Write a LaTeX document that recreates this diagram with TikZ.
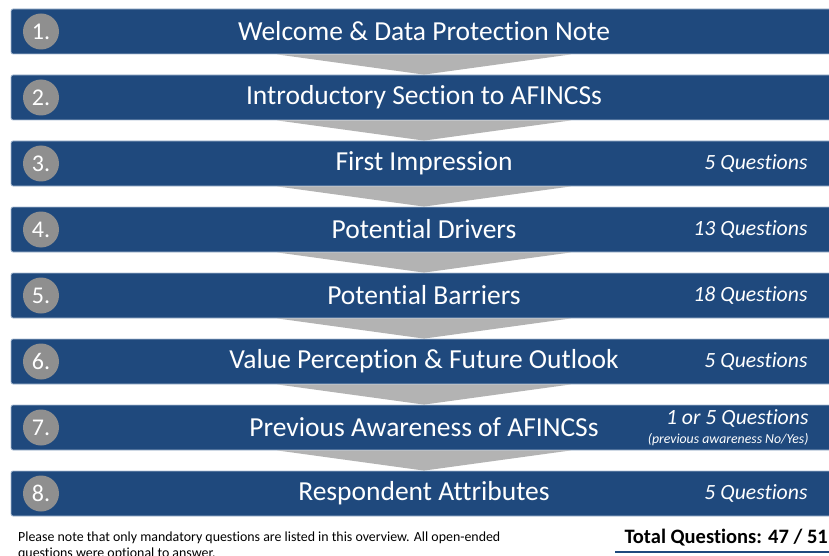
\documentclass[tikz,border=0pt]{standalone}
\usepackage{fontspec}
\setmainfont{Carlito}[Ligatures=NoCommon]
\definecolor{bar-color}{HTML}{1F497D}
\definecolor{bar-edge-color}{HTML}{A9BCD3}
\definecolor{num-node-color}{HTML}{8F8F8F}
\definecolor{chevron-color}{HTML}{B3B3B3}

\begin{document}
\begin{tikzpicture}[x=1pt, y=-1pt,
bar/.style={rectangle, fill=bar-color, draw=bar-edge-color, line width=.8pt, rounded corners=2pt,
  minimum width=826pt, minimum height=45pt, inner sep=0pt, text=white},
num/.style={circle, fill=num-node-color, minimum size=36pt, inner sep=0pt, text=white},
qcount/.style={anchor=east, text=white, align=right}]
\tikzstyle{every node}=[font=\fontsize{27.5}{30}\selectfont]
\tikzstyle{num}+=[font=\fontsize{24}{26}\selectfont]
\tikzstyle{qcount}+=[font=\fontsize{21.7}{23}\selectfont\itshape]
\tikzstyle{chevron}=[fill=chevron-color]
\clip (0,0) rectangle (829,556);

\node (b1) [bar] at (424,31.5) {Welcome \& Data Protection Note};
\node (n1) [num] at (41,31.5) {1.};
%
\node (b2) [bar] at (424,97.5) {Introductory Section to AFINCSs};
\node (n2) [num] at (41,97.5) {2.};
%
\node (b3) [bar] at (424,163.5) {First Impression};
\node (n3) [num] at (41,163.5) {3.};
\node (q3) [qcount] at (811,163.5) {5 Questions};
%
\node (b4) [bar] at (424,229.5) {Potential Drivers};
\node (n4) [num] at (41,229.5) {4.};
\node (q4) [qcount] at (811,229.5) {13 Questions};
%
\node (b5) [bar] at (424,295.5) {Potential Barriers};
\node (n5) [num] at (41,295.5) {5.};
\node (q5) [qcount] at (811,295.5) {18 Questions};
%
\node (b6) [bar] at (424,361.5) {Value Perception \& Future Outlook};
\node (n6) [num] at (41,361.5) {6.};
\node (q6) [qcount] at (811,361.5) {5 Questions};
%
\node (b7) [bar] at (424,427.5) {Previous Awareness of AFINCSs};
\node (n7) [num] at (41,427.5) {7.};
\node (q7) [qcount] at (812,427.5) {1 or 5 Questions\\[-4pt]{\fontsize{13.8}{15}\selectfont(previous awareness No/Yes)}};
%
\node (b8) [bar] at (424,493.5) {Respondent Attributes};
\node (n8) [num] at (41,493.5) {8.};
\node (q8) [qcount] at (811,493.5) {5 Questions};

% arrows between the steps
\fill[chevron] ([xshift=-147pt]b1.south) -- ([xshift=147pt]b1.south) -- (b2.north) -- cycle;
\fill[chevron] ([xshift=-147pt]b2.south) -- ([xshift=147pt]b2.south) -- (b3.north) -- cycle;
\fill[chevron] ([xshift=-147pt]b3.south) -- ([xshift=147pt]b3.south) -- (b4.north) -- cycle;
\fill[chevron] ([xshift=-147pt]b4.south) -- ([xshift=147pt]b4.south) -- (b5.north) -- cycle;
\fill[chevron] ([xshift=-147pt]b5.south) -- ([xshift=147pt]b5.south) -- (b6.north) -- cycle;
\fill[chevron] ([xshift=-147pt]b6.south) -- ([xshift=147pt]b6.south) -- (b7.north) -- cycle;
\fill[chevron] ([xshift=-147pt]b7.south) -- ([xshift=147pt]b7.south) -- (b8.north) -- cycle;

% footer
\node (note) [anchor=north west, align=left, inner sep=0pt, font=\fontsize{13.9}{15.5}\selectfont]
  at (18,532) {Please note that only mandatory questions are listed in this overview. All open-ended\\
  questions were optional to answer.};
\node (total) [anchor=east, inner sep=0pt, font=\fontsize{20.5}{22}\selectfont\bfseries] at (828,538) {Total Questions: 47 / 51};
\coordinate (line-left) at (615,552);
\coordinate (line-right) at (829,552);
\draw[bar-color, line width=1.2pt] (line-left) -- (line-right);
\end{tikzpicture}
\end{document}
